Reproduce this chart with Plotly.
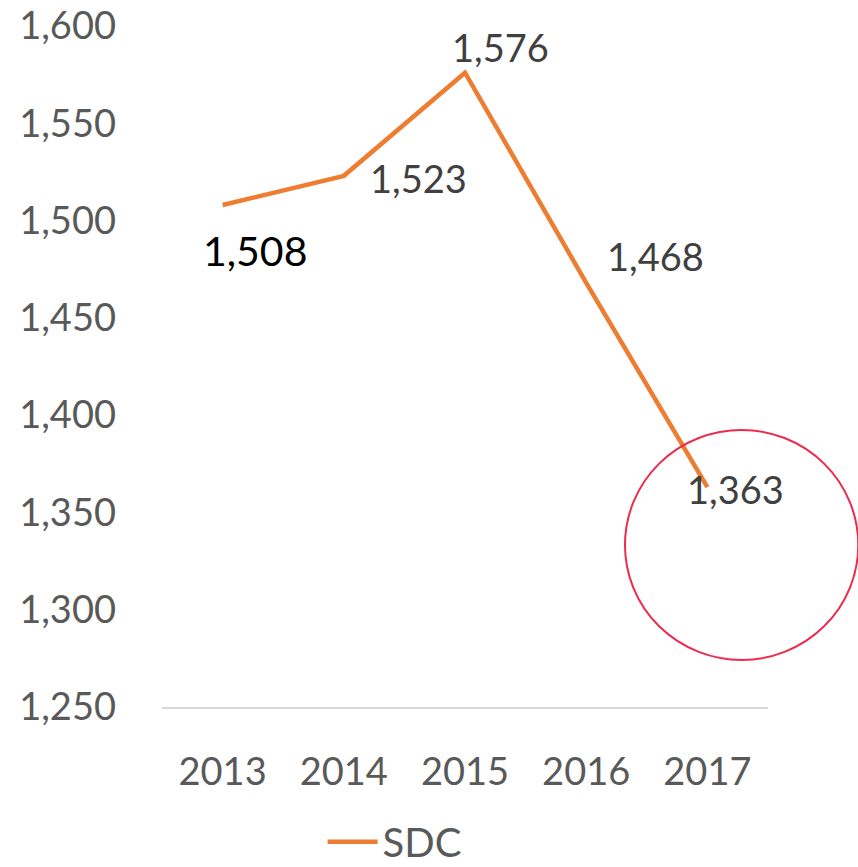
import plotly.graph_objects as go

# SDC yearly totals
years = ["2013", "2014", "2015", "2016", "2017"]
sdc_values = [1508, 1523, 1576, 1468, 1363]
y_ticks = [1250, 1300, 1350, 1400, 1450, 1500, 1550, 1600]

# label offsets (pixels) and colours for the value labels
label_shift_x = [32, 75, 35, 69, 28]
label_shift_y = [-45, -2, 26, 27, -2]
label_colors = ["#000000", "#404040", "#404040", "#404040", "#404040"]

FONT = "Lato"
ORANGE = "#ED7D31"
GREY_TEXT = "#595959"

fig = go.Figure()
fig.add_trace(go.Scatter(
    x=list(range(len(years))),
    y=sdc_values,
    mode="lines",
    name="SDC",
    line=dict(color=ORANGE, width=4.5),
    showlegend=True,
))

annotations = []
for i, v in enumerate(sdc_values):
    annotations.append(dict(
        x=i, y=v, xref="x", yref="y",
        text=f"{v:,}",
        showarrow=False,
        xshift=label_shift_x[i], yshift=label_shift_y[i],
        font=dict(family=FONT, size=41 if i == 0 else 38, color=label_colors[i]),
    ))

fig.update_layout(
    width=858, height=867,
    margin=dict(l=162, r=90, t=26, b=160, autoexpand=False),
    paper_bgcolor="white", plot_bgcolor="white",
    font=dict(family=FONT, size=38, color=GREY_TEXT),
    annotations=annotations,
    shapes=[dict(
        type="circle", xref="paper", yref="paper",
        x0=0.764, x1=1.149, y0=0.069, y1=0.4068,
        line=dict(color="#EE2A4E", width=2),
        fillcolor="rgba(0,0,0,0)", layer="above",
    )],
    legend=dict(
        orientation="h",
        x=0.265, xanchor="left",
        y=-0.198, yanchor="middle",
        font=dict(family=FONT, size=40, color=GREY_TEXT),
        itemwidth=50,
        bgcolor="rgba(0,0,0,0)",
    ),
    xaxis=dict(
        range=[-0.5, 4.5],
        tickmode="array",
        tickvals=list(range(len(years))),
        ticktext=years,
        showgrid=False,
        zeroline=False,
        showline=True, linecolor="#D9D9D9", linewidth=1.5,
        ticks="",
        ticklabelstandoff=31,
        tickfont=dict(family=FONT, size=38, color=GREY_TEXT),
    ),
    yaxis=dict(
        range=[1250, 1600],
        tickmode="array",
        tickvals=y_ticks,
        ticktext=[f"{t:,}" for t in y_ticks],
        showgrid=False,
        zeroline=False,
        showline=False,
        ticks="",
        ticklabelstandoff=45,
        tickfont=dict(family=FONT, size=38, color=GREY_TEXT),
    ),
)

fig.write_html("out.html")
